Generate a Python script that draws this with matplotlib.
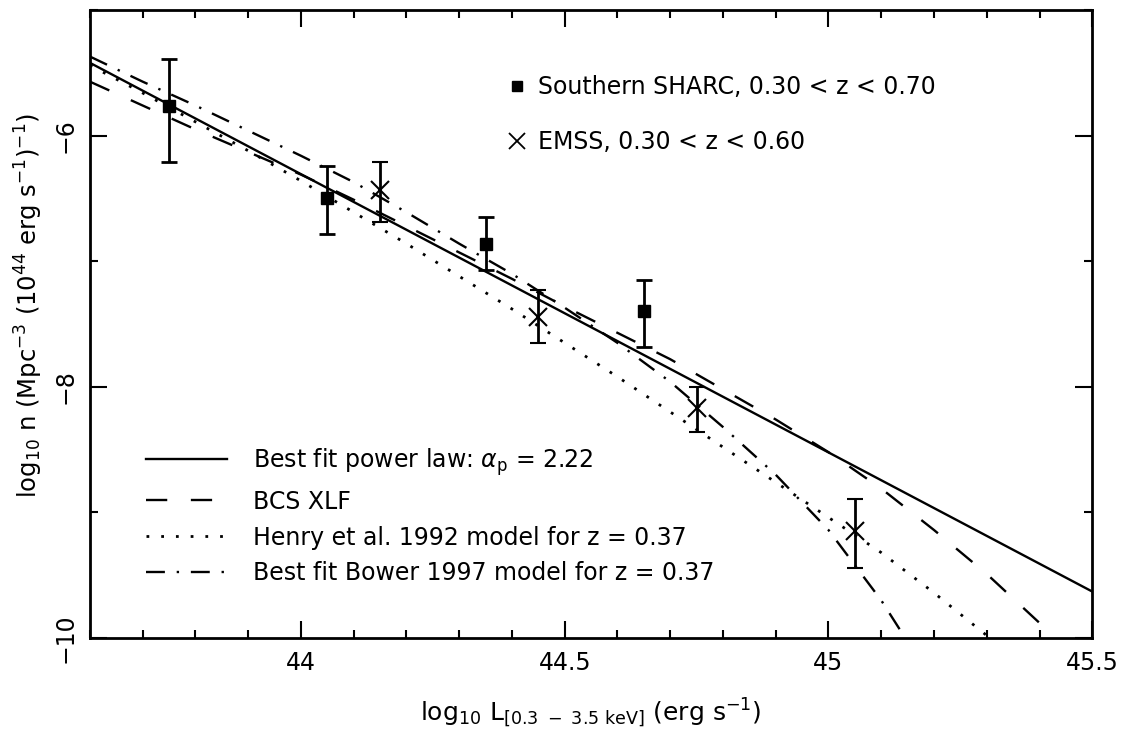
import numpy as np
import matplotlib.pyplot as plt
from matplotlib.lines import Line2D
from matplotlib.ticker import MultipleLocator

plt.rcParams['font.family'] = ['DejaVu Sans']
plt.rcParams['mathtext.fontset'] = 'dejavusans'

# Southern SHARC points (filled squares)
sharc_x = [43.75, 44.05, 44.35, 44.65]
sharc_y = [-5.76, -6.50, -6.86, -7.40]
sharc_up = [0.37, 0.26, 0.21, 0.25]
sharc_lo = [0.45, 0.28, 0.21, 0.28]

# EMSS points (crosses)
emss_x = [44.15, 44.45, 44.75, 45.05]
emss_y = [-6.43, -7.44, -8.17, -9.15]
emss_up = [0.22, 0.21, 0.17, 0.26]
emss_lo = [0.26, 0.21, 0.19, 0.29]

# best fit power law
pl_x = [43.6, 45.5]
pl_y = [-5.42, -9.63]

# BCS XLF
bcs_x = [43.6, 43.7, 43.8, 43.9, 44.0, 44.1, 44.2, 44.3, 44.4, 44.5,
         44.6, 44.7, 44.8, 44.9, 45.0, 45.1, 45.2, 45.3, 45.4, 45.45]
bcs_y = [-5.57, -5.76, -5.95, -6.13, -6.31, -6.51, -6.72, -6.93, -7.14, -7.36,
         -7.57, -7.78, -8.02, -8.26, -8.52, -8.81, -9.14, -9.49, -9.88, -10.1]

# Henry et al. 1992 model
henry_x = [43.6, 43.7, 43.8, 43.9, 44.0, 44.1, 44.2, 44.3, 44.4, 44.5,
           44.6, 44.7, 44.8, 44.9, 45.0, 45.1, 45.2, 45.3, 45.35]
henry_y = [-5.44, -5.66, -5.89, -6.12, -6.36, -6.61, -6.86, -7.12, -7.38, -7.65,
           -7.92, -8.20, -8.48, -8.76, -9.04, -9.32, -9.64, -9.98, -10.15]

# Bower 1997 model
bower_x = [43.6, 43.7, 43.8, 43.9, 44.0, 44.1, 44.2, 44.3, 44.4, 44.5,
           44.6, 44.7, 44.8, 44.9, 45.0, 45.1, 45.15]
bower_y = [-5.37, -5.57, -5.76, -5.96, -6.16, -6.37, -6.61, -6.86, -7.10, -7.37,
           -7.65, -7.96, -8.32, -8.70, -9.14, -9.70, -10.03]

fig = plt.figure(figsize=(11.3, 7.31), dpi=100)
ax = fig.add_axes([0.0796, 0.1272, 0.887, 0.859])

lw = 1.7
solid, = ax.plot(pl_x, pl_y, color='black', lw=lw)
dashed, = ax.plot(bcs_x, bcs_y, color='black', lw=lw, linestyle=(0, (9, 10)))
dotted, = ax.plot(henry_x, henry_y, color='black', lw=2, linestyle=(0, (1, 4.3)))
dashdot, = ax.plot(bower_x, bower_y, color='black', lw=lw, linestyle=(0, (8, 5, 1, 5)))

ax.errorbar(sharc_x, sharc_y, yerr=[sharc_lo, sharc_up], fmt='s', color='black',
            ms=9, elinewidth=2, capsize=6, capthick=2)
ax.errorbar(emss_x, emss_y, yerr=[emss_lo, emss_up], fmt='x', color='black',
            ms=13, mew=1.5, elinewidth=2, capsize=6, capthick=2)

ax.set_xlim(43.6, 45.5)
ax.set_ylim(-10, -5)
ax.xaxis.set_minor_locator(MultipleLocator(0.1))
ax.yaxis.set_minor_locator(MultipleLocator(1))
ax.set_xticks([44, 44.5, 45, 45.5])
ax.set_xticklabels(['44', '44.5', '45', '45.5'])
ax.set_yticks([-10, -8, -6])
ax.set_yticklabels(['\u221210', '\u22128', '\u22126'], rotation=90, va='center')
ax.tick_params(which='both', direction='in', top=True, right=True, width=1.5,
               labelsize=17)
ax.tick_params(which='major', length=12, pad=9)
ax.tick_params(which='minor', length=6)
for s in ax.spines.values():
    s.set_linewidth(2)

ax.set_xlabel(r'log$_{10}$ L$_{[0.3\ -\ 3.5\ \mathrm{keV}]}$ (erg s$^{-1}$)',
              fontsize=18, labelpad=16)
ax.set_ylabel(r'log$_{10}$ n (Mpc$^{-3}$ (10$^{44}$ erg s$^{-1}$)$^{-1}$)',
              fontsize=17.5)
ax.yaxis.set_label_coords(-0.045, 0.53)

pts = [Line2D([], [], marker='s', color='black', ls='none', ms=7),
       Line2D([], [], marker='x', color='black', ls='none', ms=11, mew=1.3)]
leg1 = ax.legend(pts, ['Southern SHARC, 0.30 < z < 0.70', 'EMSS, 0.30 < z < 0.60'],
                 loc='upper left', bbox_to_anchor=(0.395, 0.93), frameon=False,
                 fontsize=17, handlelength=0.8, handletextpad=0.5, labelspacing=1.3)
ax.add_artist(leg1)
ax.legend([solid, dashed, dotted, dashdot],
          [r'Best fit power law: $\alpha_{\mathrm{p}}$ = 2.22', 'BCS XLF',
           'Henry et al. 1992 model for z = 0.37',
           'Best fit Bower 1997 model for z = 0.37'],
          loc='lower left', bbox_to_anchor=(0.035, 0.05), frameon=False,
          fontsize=17, handlelength=3.4, handletextpad=1.1, labelspacing=0.5)

fig.savefig('out.png', dpi=100)
